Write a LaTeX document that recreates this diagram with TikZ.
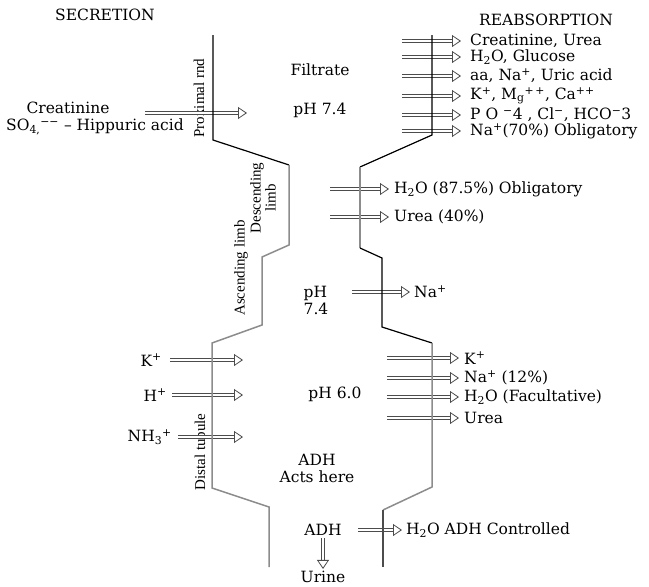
\documentclass[tikz,border=0pt]{standalone}
\usepackage{fontspec}
\setmainfont{DejaVu Serif}
\newfontfamily\timesf{Liberation Serif}
\usetikzlibrary{arrows.meta}
\begin{document}
\begin{tikzpicture}[x=1pt,y=-1pt,
  txt/.style={font=\fontsize{15.5}{17}\selectfont, inner sep=1pt},
  lbl/.style={txt, anchor=west},
  lbr/.style={txt, anchor=east},
  rot/.style={font=\timesf\fontsize{15}{15}\selectfont, rotate=90, inner sep=0pt, align=center},
  dbl/.style={draw=black!70, line width=0.6pt, double=white, double distance=2.6pt,
    -{Triangle[open,length=9pt,width=12pt,line width=0.8pt]}},
  wallk/.style={draw=black, line width=1.2pt},
  wallg/.style={draw=black!45, line width=1.5pt}]
\useasboundingbox (0,0) rectangle (649,587);

% headings
\node[txt] (sec) at (105,15) {SECRETION};
\node[txt] (rea) at (546,20) {REABSORPTION};

% centre texts
\node[txt] (filt) at (320,70) {Filtrate};
\node[txt] (ph1) at (320,110) {pH 7.4};
\node[txt, align=left] (ph2) at (316,300) {pH\\7.4};
\node[txt] (ph3) at (335,394) {pH 6.0};
\node[txt, align=center] (adh1) at (317,468) {ADH\\Acts here};
\node[txt] (adh2) at (323,530) {ADH};
\node[txt] (urine) at (323,577) {Urine};

% rotated labels
\node[rot] (prox) at (199,98) {Proximal rnd};
\node[rot] (desc) at (263,198) {Descending\\limb};
\node[rot] (asc) at (241,268) {Ascending limb};
\node[rot] (dist) at (200,452) {Distal tubule};

% left secretion texts
\node[txt] (lc1) at (68,108) {Creatinine};
\node[txt] (lc2) at (95,127) {SO\textsubscript{4,}\textsuperscript{−−} – Hippuric acid};
\node[lbr] (lk) at (163,360) {K\textsuperscript{+}};
\node[lbr] (lh) at (168,395) {H\textsuperscript{+}};
\node[lbr] (ln) at (173,437) {NH\textsubscript{3}\textsuperscript{+}};

% right reabsorption texts
\node[lbl] (r1) at (469,41) {Creatinine, Urea};
\node[lbl] (r2) at (469,57) {H\textsubscript{2}O, Glucose};
\node[lbl] (r3) at (469,76) {aa, Na\textsuperscript{+}, Uric acid};
\node[lbl] (r4) at (469,96) {K\textsuperscript{+}, M\textsubscript{g}\textsuperscript{+\,+}, Ca\textsuperscript{++}};
\node[lbl] (r5) at (469,115) {P O \textsuperscript{−}4 , Cl\textsuperscript{−}, HCO\textsuperscript{−}3};
\node[lbl] (r6) at (469,131) {Na\textsuperscript{+}(70\%) Obligatory};
\node[lbl] (m1) at (393,189) {H\textsubscript{2}O (87.5\%) Obligatory};
\node[lbl] (m2) at (393,217) {Urea (40\%)};
\node[lbl] (m3) at (413,292) {Na\textsuperscript{+}};
\node[lbl] (d1) at (463,358) {K\textsuperscript{+}};
\node[lbl] (d2) at (463,378) {Na\textsuperscript{+} (12\%)};
\node[lbl] (d3) at (463,397) {H\textsubscript{2}O (Facultative)};
\node[lbl] (d4) at (463,418) {Urea};
\node[lbl] (e1) at (405,530) {H\textsubscript{2}O ADH Controlled};

% arrow start / end coordinates
\coordinate (lc0) at (145,113);  \coordinate (lcT) at (247,113);
\coordinate (lk0) at (170,360);  \coordinate (lkT) at (243,360);
\coordinate (lh0) at (172,395);  \coordinate (lhT) at (243,395);
\coordinate (ln0) at (178,437);  \coordinate (lnT) at (243,437);
\coordinate (r10) at (402,41);
\coordinate (r20) at (402,57);
\coordinate (r30) at (402,76);
\coordinate (r40) at (402,96);
\coordinate (r50) at (402,115);
\coordinate (r60) at (402,131);
\coordinate (m10) at (330,189);
\coordinate (m20) at (330,217);
\coordinate (m30) at (352,292);
\coordinate (d10) at (387,358);
\coordinate (d20) at (387,378);
\coordinate (d30) at (387,397);
\coordinate (d40) at (387,418);
\coordinate (e10) at (358,530);

% arrows
\draw[dbl] (lc0) -- (lcT);
\draw[dbl] (lk0) -- (lkT);
\draw[dbl] (lh0) -- (lhT);
\draw[dbl] (ln0) -- (lnT);
\foreach \n in {r1,r2,r3,r4,r5,r6}
  \draw[dbl, shorten >=8pt] (\n0) -- (\n0 -| \n.west);
\foreach \n in {m1,m2}
  \draw[dbl, shorten >=4pt] (\n0) -- (\n0 -| \n.west);
\draw[dbl, shorten >=3pt] (m30) -- (m30 -| m3.west);
\foreach \n in {d1,d2,d3,d4}
  \draw[dbl, shorten >=4pt] (\n0) -- (\n0 -| \n.west);
\draw[dbl, shorten >=3pt] (e10) -- (e10 -| e1.west);
\draw[dbl, shorten <=1pt, shorten >=1pt] (adh2.south) -- (urine.north);

% tubule walls
\draw[wallk] (213,35) -- (213,140) -- (289,165);
\draw[wallg] (289,165) -- (289,245) -- (262,257) -- (262,325) -- (212,343)
  -- (212,488) -- (269,507) -- (269,567);
\draw[wallk] (432,35) -- (432,135) -- (360,167);
\draw[wallg] (360,167) -- (360,248);
\draw[wallk] (360,248) -- (382,258) -- (382,327) -- (432,343);
\draw[wallg] (432,343) -- (432,487) -- (383,510);
\draw[wallk, draw=black!70] (383,510) -- (383,567);
\end{tikzpicture}
\end{document}
